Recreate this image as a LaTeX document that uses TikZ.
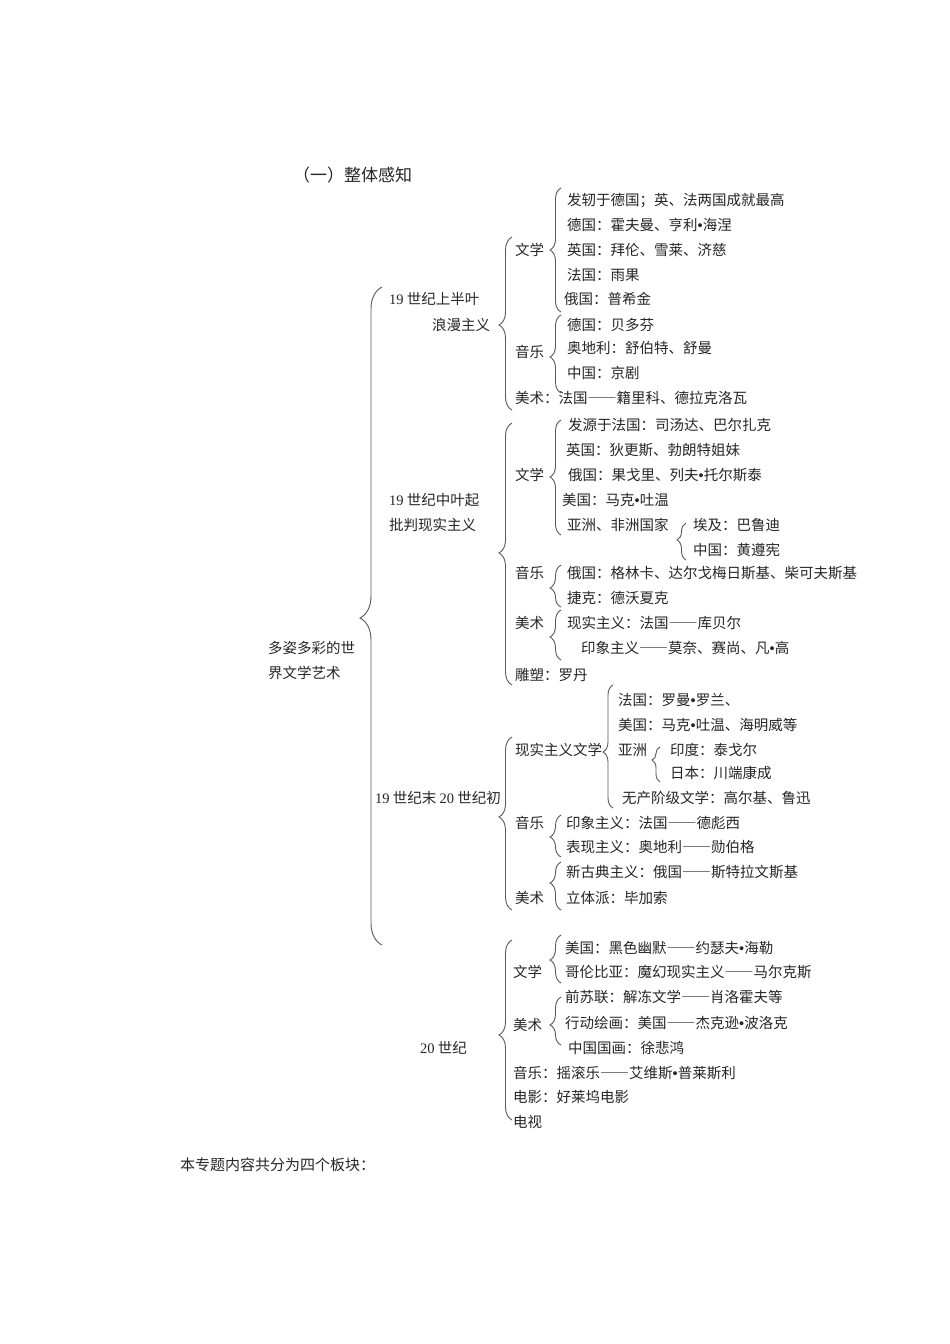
\documentclass[tikz,border=0pt]{standalone}
\usepackage{fontspec}
\setmainfont{Noto Sans CJK SC}
\newfontfamily\numf{Liberation Serif}
\newfontfamily\dotf{Liberation Sans}
\newfontfamily\dshf[RawFeature=+fwid]{Noto Sans CJK SC}
\newcommand\mdot{{\dotf •}}
\newcommand\mdsh{{\dshf ——}}
\usetikzlibrary{decorations.pathreplacing}

\newcommand\brc[5]{%
  \pgfmathsetmacro\brcasp{(#5-#4)/(#5-#3)}
  \draw[brc, decoration={brace,amplitude=#1,aspect=\brcasp}] (#2,#5) -- (#2,#3);
}

\begin{document}
\begin{tikzpicture}[x = 1pt,
                    y = -1pt,
                    every node/.style = {anchor=west, inner sep=0pt, text=black!85,
                                         text height=12.8pt, text depth=1.8pt,
                                         font=\fontsize{14.5}{17}\selectfont},
                    brc/.style = {decorate, draw=black!65, line width=0.9pt}]
\fill[white] (0,0) rectangle (950,1344);
\useasboundingbox (0,0) rectangle (950,1344);

\node[font=\fontsize{17}{20}\selectfont] (title) at (293,176) {（一）整体感知};

\node (root1) at (268,648) {多姿多彩的世};
\node (root2) at (268,673) {界文学艺术};
\brc{22}{382}{287}{618}{945}

% 19 first half
\node (ga1) at (389,299) {{\numf 19} 世纪上半叶};
\node (ga2) at (432,325) {浪漫主义};
\brc{13}{512}{237}{325}{410}

\node (galit) at (515,250) {文学};
\brc{11}{561}{188}{250}{312}
\node (galit1) at (567,200) {发轫于德国；英、法两国成就最高};
\node (galit2) at (567,225) {德国：霍夫曼、亨利\mdot 海涅};
\node (galit3) at (567,250) {英国：拜伦、雪莱、济慈};
\node (galit4) at (567,275) {法国：雨果};
\node (galit5) at (564,299) {俄国：普希金};

\node (gamus) at (515,352) {音乐};
\brc{11}{561}{315}{357}{393}
\node (gamus1) at (567,325) {德国：贝多芬};
\node (gamus2) at (567,348) {奥地利：舒伯特、舒曼};
\node (gamus3) at (567,373) {中国：京剧};

\node (gaart) at (515,398) {美术：法国\mdsh 籍里科、德拉克洛瓦};

% 19 middle
\node (gb1) at (389,500) {{\numf 19} 世纪中叶起};
\node (gb2) at (389,525) {批判现实主义};
\brc{13}{512}{423}{553}{685}

\node (gblit) at (515,475) {文学};
\brc{11}{561}{420}{477}{535}
\node (gblit1) at (568,425) {发源于法国：司汤达、巴尔扎克};
\node (gblit2) at (566,450) {英国：狄更斯、勃朗特姐妹};
\node (gblit3) at (568,475) {俄国：果戈里、列夫\mdot 托尔斯泰};
\node (gblit4) at (562,500) {美国：马克\mdot 吐温};
\node (gblit5) at (567,525) {亚洲、非洲国家};
\brc{9}{686}{523}{540}{560}
\node (gbasia1) at (693,525) {埃及：巴鲁迪};
\node (gbasia2) at (693,550) {中国：黄遵宪};

\node (gbmus) at (515,573) {音乐};
\brc{11}{561}{565}{588}{607}
\node (gbmus1) at (567,573) {俄国：格林卡、达尔戈梅日斯基、柴可夫斯基};
\node (gbmus2) at (567,598) {捷克：德沃夏克};

\node (gbart) at (515,623) {美术};
\brc{11}{561}{610}{637}{660}
\node (gbart1) at (567,623) {现实主义：法国\mdsh 库贝尔};
\node (gbart2) at (581,648) {印象主义\mdsh 莫奈、赛尚、凡\mdot 高};

\node (gbsculp) at (515,675) {雕塑：罗丹};

% 19 end 20 start
\node (gc) at (375,798) {{\numf 19} 世纪末 {\numf 20} 世纪初};
\brc{13}{512}{737}{817}{910}

\node (gclit) at (515,750) {现实主义文学};
\brc{10}{613}{685}{752}{808}
\node (gclit1) at (618,700) {法国：罗曼\mdot 罗兰、};
\node (gclit2) at (618,725) {美国：马克\mdot 吐温、海明威等};
\node (gclit3) at (618,750) {亚洲};
\brc{8}{660}{747}{760}{782}
\node (gcasia1) at (670,750) {印度：泰戈尔};
\node (gcasia2) at (670,773) {日本：川端康成};
\node (gclit4) at (622,798) {无产阶级文学：高尔基、鲁迅};

\node (gcmus) at (515,823) {音乐};
\brc{11}{561}{815}{837}{857}
\node (gcmus1) at (566,823) {印象主义：法国\mdsh 德彪西};
\node (gcmus2) at (566,847) {表现主义：奥地利\mdsh 勋伯格};

\node (gcart) at (515,898) {美术};
\brc{11}{561}{862}{883}{910}
\node (gcart1) at (566,872) {新古典主义：俄国\mdsh 斯特拉文斯基};
\node (gcart2) at (566,898) {立体派：毕加索};

% 20
\node (gd) at (420,1048) {{\numf 20} 世纪};
\brc{13}{512}{940}{1035}{1120}

\node (gdlit) at (513,972) {文学};
\brc{11}{561}{935}{960}{983}
\node (gdlit1) at (565,948) {美国：黑色幽默\mdsh 约瑟夫\mdot 海勒};
\node (gdlit2) at (565,972) {哥伦比亚：魔幻现实主义\mdsh 马尔克斯};

\node (gdart) at (513,1025) {美术};
\brc{11}{561}{997}{1025}{1045}
\node (gdart1) at (565,997) {前苏联：解冻文学\mdsh 肖洛霍夫等};
\node (gdart2) at (565,1023) {行动绘画：美国\mdsh 杰克逊\mdot 波洛克};
\node (gdart3) at (568,1048) {中国国画：徐悲鸿};

\node (gdmus) at (513,1073) {音乐：摇滚乐\mdsh 艾维斯\mdot 普莱斯利};
\node (gdfilm) at (513,1097) {电影：好莱坞电影};
\node (gdtv) at (513,1122) {电视};

\node[font=\fontsize{15}{18}\selectfont] (foot) at (180,1165) {本专题内容共分为四个板块：};
\end{tikzpicture}
\end{document}
